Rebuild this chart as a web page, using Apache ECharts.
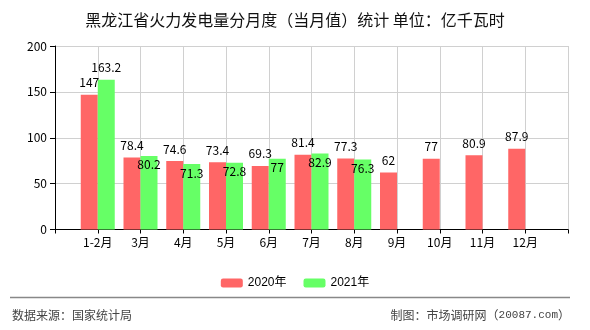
<!DOCTYPE html>
<html>
<head>
<meta charset="utf-8">
<script src="https://cdn.jsdelivr.net/npm/echarts@6/dist/echarts.min.js"></script>
<style>
html,body{margin:0;padding:0;background:#fff;}
#chart{width:590px;height:330px;}
</style>
</head>
<body>
<div id="chart"></div>
<script>
const titleText = '黑龙江省火力发电量分月度（当月值）统计 单位：亿千瓦时';
const categories = ['1-2月','3月','4月','5月','6月','7月','8月','9月','10月','11月','12月'];
const seriesNames = ['2020年','2021年'];
const values2020 = [147,78.4,74.6,73.4,69.3,81.4,77.3,62,77,80.9,87.9];
const values2021 = [163.2,80.2,71.3,72.8,77,82.9,76.3,null,null,null,null];
const yTicks = [0,50,100,150,200];
const sourceText = '数据来源：国家统计局';
const creditHead = '制图：市场调研网（';
const creditSite = '20087.com';
const creditTail = '）';

const FONT = "'Noto Sans CJK SC', 'Liberation Sans', sans-serif";
const pad = arr => [null].concat(arr, [null]);
const xData = [''].concat(categories, ['']);

const d2020 = pad(values2020);
const d2021 = pad(values2021).map((v, i) => {
  if (v == null) return null;
  const r = d2020[i];
  const close = r != null && Math.abs(v - r) < 12;
  return close ? { value: v, label: { offset: [0, 21] } } : v;
});

const chart = echarts.init(document.getElementById('chart'), null, { renderer: 'canvas' });
chart.setOption({
  animation: false,
  backgroundColor: '#fff',
  textStyle: { fontFamily: FONT },
  title: {
    text: titleText,
    left: 'center',
    top: 7,
    textStyle: { fontSize: 16, fontWeight: 'normal', color: '#111', fontFamily: FONT }
  },
  legend: {
    data: seriesNames,
    left: 'center',
    top: 272,
    itemWidth: 22,
    itemHeight: 9,
    itemGap: 17,
    textStyle: { fontSize: 12, color: '#000', fontFamily: "'Liberation Sans', 'Noto Sans CJK SC', sans-serif" }
  },
  grid: { left: 55, right: 22, top: 46, bottom: 100.5, containLabel: false },
  xAxis: {
    type: 'category',
    data: xData,
    boundaryGap: false,
    axisLine: { show: true, lineStyle: { color: '#000', width: 1 } },
    axisTick: { show: true, length: 4, interval: 0, lineStyle: { color: '#000' } },
    axisLabel: { interval: 0, margin: 7, fontSize: 12, color: '#000', fontFamily: FONT },
    splitLine: { show: true, interval: 0, lineStyle: { color: '#d0d0d0', width: 1 } }
  },
  yAxis: {
    type: 'value',
    min: yTicks[0],
    max: yTicks[yTicks.length - 1],
    interval: yTicks[1] - yTicks[0],
    axisLine: { show: true, lineStyle: { color: '#000', width: 1 } },
    axisTick: { show: true, length: 5, lineStyle: { color: '#000' } },
    axisLabel: { margin: 8, fontSize: 12, color: '#000', fontFamily: FONT },
    splitLine: { show: true, lineStyle: { color: '#d0d0d0', width: 1 } }
  },
  series: [
    {
      name: seriesNames[0],
      type: 'bar',
      data: d2020,
      barWidth: 17,
      barGap: '0%',
      itemStyle: { color: '#ff6666' },
      label: { show: true, position: 'top', distance: 6, fontSize: 12, color: '#000', fontFamily: FONT }
    },
    {
      name: seriesNames[1],
      type: 'bar',
      data: d2021,
      barWidth: 17,
      barGap: '0%',
      itemStyle: { color: '#66ff66' },
      label: { show: true, position: 'top', distance: 6, fontSize: 12, color: '#000', fontFamily: FONT }
    }
  ],
  graphic: [
    { type: 'line', shape: { x1: 10, y1: 297.5, x2: 570, y2: 297.5 }, style: { stroke: '#888', lineWidth: 1.5 } },
    { type: 'text', left: 12, top: 309, style: { text: sourceText, fontSize: 12, fill: '#444', fontFamily: FONT } },
    { type: 'text', right: 20, top: 309, style: {
        text: '{a|' + creditHead + '}{b|' + creditSite + '}{a|' + creditTail + '}',
        fill: '#444',
        rich: {
          a: { fontSize: 12, fill: '#444', fontFamily: FONT },
          b: { fontSize: 11, fill: '#444', fontFamily: "'Liberation Mono', monospace" }
        }
      }
    }
  ]
});
</script>
</body>
</html>
